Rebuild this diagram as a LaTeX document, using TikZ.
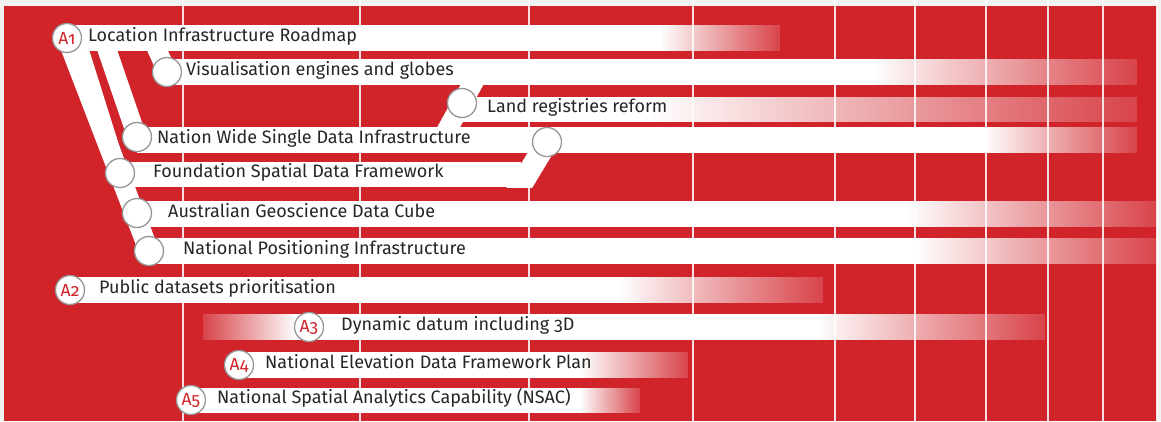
\documentclass[tikz,border=0pt]{standalone}
\usepackage{fontspec}
\setmainfont{Fira Sans}[Numbers=OldStyle]
\usetikzlibrary{fadings,positioning}

\tikzfading[name=barfade, left color=transparent!0, right color=transparent!85]
\tikzfading[name=barfadein, left color=transparent!85, right color=transparent!0]

\pgfdeclarelayer{back}
\pgfdeclarelayer{tracks}
\pgfsetlayers{back,tracks,main}

\begin{document}
\begin{tikzpicture}[x=1pt, y=-1pt,
    milestone/.style={circle, draw=ringgray, fill=white, line width=1.3pt, minimum size=29pt, inner sep=0pt, font=\fontsize{17.5}{17.5}\selectfont, text=roadred},
    roadtext/.style={anchor=west, inner sep=0pt, text height=0.69em, text depth=0pt, font=\fontsize{18}{18}\selectfont, text=black!85},
    track/.style={draw=white, line width=20pt},
    gridline/.style={draw=white, line width=1.5pt, opacity=0.85},
    whitebar/.style={fill=white},
    fadebar/.style={fill=white, path fading=barfade}
]

% Define colours
\definecolor{roadred}{RGB}{209,35,42}      % background red
\definecolor{pagegray}{RGB}{242,242,240}   % page margin
\definecolor{ringgray}{RGB}{150,150,150}   % milestone ring

\useasboundingbox (0,0) rectangle (1161,421);

% Milestones - Location Infrastructure Roadmap group
\node[milestone] (a1) at (67,38) {A1};
\node[milestone] (vis) at (167,72) {};
\node[milestone] (land) at (462,103) {};
\node[milestone] (nation) at (137,137) {};
\node[milestone] (junction) at (547,142) {};
\node[milestone] (found) at (120,173) {};
\node[milestone] (geo) at (137,213) {};
\node[milestone] (npi) at (149,251) {};

% Milestones - other actions
\node[milestone] (a2) at (70,290) {A2};
\node[milestone] (a3) at (309,327) {A3};
\node[milestone] (a4) at (239,365) {A4};
\node[milestone] (a5) at (191,400) {A5};

% Texts on the bars
\node[roadtext] (a1-text) at (88,38) {Location Infrastructure Roadmap};
\node[roadtext] (vis-text) at (186,72) {Visualisation engines and globes};
\node[roadtext] (land-text) at (487,109.5) {Land registries reform};
\node[roadtext] (nation-text) at (157,140) {Nation Wide Single Data Infrastructure};
\node[roadtext] (found-text) at (153,174.5) {Foundation Spatial Data Framework};
\node[roadtext] (geo-text) at (168,214) {Australian Geoscience Data Cube};
\node[roadtext] (npi-text) at (183,251) {National Positioning Infrastructure};
\node[roadtext] (a2-text) at (99,290) {Public datasets prioritisation};
\node[roadtext] (a3-text) at (341,327) {Dynamic datum including 3D};
\node[roadtext] (a4-text) at (265,365) {National Elevation Data Framework Plan};
\node[roadtext] (a5-text) at (217,400.5) {National Spatial Analytics Capability (NSAC)};

% Branch points inside the bars
\coordinate (fork-b) at (82,38);
\coordinate (fork-c) at (103,38);
\coordinate (fork-d) at (152,38);
\coordinate (fork-e) at (479,72);
\coordinate (join-e) at (441,141);
\coordinate (join-f) at (515,195);

% Background and year lines
\begin{pgfonlayer}{back}
\fill[pagegray] (0,0) rectangle (1161,421);
\fill[roadred] (4,6) rectangle (1157,421);
\foreach \x in {183,360,529,693,835,915,986,1048,1103,1157}
    \draw[gridline] (\x,0) -- (\x,421);
\end{pgfonlayer}

\begin{pgfonlayer}{tracks}
% Bars
\fill[whitebar] (67,25) rectangle (661,51);
\fill[fadebar] (660,25) rectangle (780,51);
\fill[whitebar] (167,59) rectangle (874,85);
\fill[fadebar] (873,59) rectangle (1137,85);
\fill[whitebar] (462,97) rectangle (651,122);
\fill[fadebar] (650,97) rectangle (1137,122);
\fill[whitebar] (137,127) rectangle (984,153);
\fill[fadebar] (983,127) rectangle (1137,153);
\fill[whitebar] (120,162) rectangle (521,187);
\fill[whitebar] (137,201) rectangle (908,227);
\fill[fadebar] (907,201) rectangle (1157,227);
\fill[whitebar] (149,238) rectangle (918,264);
\fill[fadebar] (917,238) rectangle (1157,264);
\fill[whitebar] (70,277) rectangle (621,303);
\fill[fadebar] (620,277) rectangle (823,303);
\fill[whitebar, path fading=barfadein] (203,314) rectangle (296,340);
\fill[whitebar] (295,314) rectangle (818,340);
\fill[fadebar] (817,314) rectangle (1045,340);
\fill[whitebar] (239,352) rectangle (581,378);
\fill[fadebar] (580,352) rectangle (688,378);
\fill[whitebar] (191,388) rectangle (581,413);
\fill[fadebar] (580,388) rectangle (640,413);

% Diagonal tracks
\draw[track] (a1.center) -- (npi.center);
\draw[track, line width=6.5pt] (fork-b) -- (geo.center);
\draw[track, line width=19pt] (fork-c) -- (nation.center);
\draw[track, line width=19pt] (fork-d) -- (vis.center);
\draw[track] (fork-e) -- (land.center) -- (join-e);
\begin{scope}
    \clip (0,0) rectangle (1161,187);
    \draw[track, line width=22pt] (junction.center) -- (join-f);
\end{scope}
\end{pgfonlayer}

\end{tikzpicture}
\end{document}
